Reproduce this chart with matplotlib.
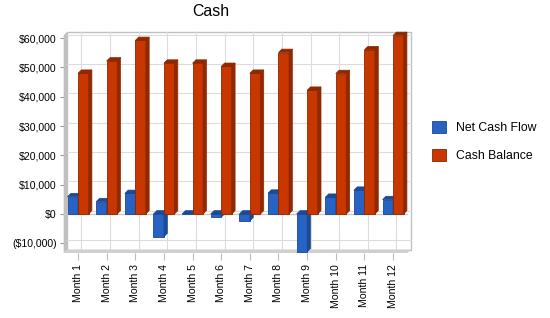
import matplotlib
matplotlib.use("Agg")
import matplotlib.pyplot as plt
from matplotlib.patches import Polygon, Rectangle

plt.rcParams["font.family"] = ["Liberation Sans", "DejaVu Sans"]

# dados
meses = ["Month 1", "Month 2", "Month 3", "Month 4", "Month 5", "Month 6",
         "Month 7", "Month 8", "Month 9", "Month 10", "Month 11", "Month 12"]
net_cash_flow = [5900, 4200, 7000, -7750, 0, -1100, -2350, 7100, -12900, 5700, 8100, 4900]
cash_balance = [48000, 52200, 59200, 51450, 51450, 50350, 48000, 55100, 42200, 47900, 56000, 60900]
y_ticks = [-10000, 0, 10000, 20000, 30000, 40000, 50000, 60000]

AZUL, AZUL_LADO, AZUL_BORDA = "#2663c4", "#1d4a93", "#1c4690"
VERM, VERM_LADO, VERM_BORDA = "#c83700", "#922800", "#8a2600"
PROF = 3.4  # profundidade 3D em pixels

fig = plt.figure(figsize=(5.5, 3.18), dpi=100)
ax = fig.add_axes([63.7 / 550, 65 / 318, 347.1 / 550, 221.3 / 318])
xlo, xhi = -0.5, 11.5
ylo, yhi = -13300, 61000
ax.set_xlim(xlo, 11.62)
ax.set_ylim(ylo, 62200)
for s in ax.spines.values():
    s.set_visible(False)

# conversao pixel -> dados para o efeito 3D
p0 = ax.transData.transform((0, 0))
p1 = ax.transData.transform((1, 1000))
ddx = PROF / (p1[0] - p0[0])
ddy = PROF * 1000 / (p1[1] - p0[1])

# parede do fundo + grade
ax.add_patch(Rectangle((xlo + ddx, ylo + ddy), xhi - xlo, yhi - ylo, facecolor="white",
                       edgecolor="#c0c0c0", lw=1.0, zorder=0, clip_on=False))
for yt in y_ticks:
    ax.plot([xlo + ddx, xhi + ddx], [yt + ddy, yt + ddy], color="#dcdcdc", lw=0.8, zorder=1, clip_on=False)
for i in range(len(meses)):
    ax.plot([i + ddx, i + ddx], [ylo + ddy, yhi + ddy], color="#dcdcdc", lw=0.8, zorder=1, clip_on=False)

# parede esquerda e piso
ax.add_patch(Polygon([(xlo, ylo), (xlo, yhi), (xlo + ddx, yhi + ddy), (xlo + ddx, ylo + ddy)],
                     closed=True, facecolor="#c0c0c0", edgecolor="none", zorder=2, clip_on=False))
ax.add_patch(Polygon([(xlo, ylo), (xhi, ylo), (xhi + ddx, ylo + ddy), (xlo + ddx, ylo + ddy)],
                     closed=True, facecolor="#cfcfcf", edgecolor="none", zorder=2, clip_on=False))
ax.plot([xlo, xhi], [0, 0], color="#c8c8c8", lw=1.0, zorder=2, clip_on=False)

# barras (frente via ax.bar, lados e topo como poligonos)
larg = 0.366
pos = list(range(len(meses)))
serie = [("Net Cash Flow", net_cash_flow, -larg / 2, AZUL, AZUL_LADO, AZUL_BORDA),
         ("Cash Balance", cash_balance, larg / 2, VERM, VERM_LADO, VERM_BORDA)]
handles = []
for k, (nome, vals, off, cor, lado, borda) in enumerate(serie):
    b = ax.bar([p + off for p in pos], vals, width=larg, color=cor, edgecolor=borda,
               linewidth=0.6, label=nome, clip_on=False)
    handles.append(b)
    for i, rect in enumerate(b.patches):
        z = 3 + i * 0.1 + k * 0.05
        rect.set_zorder(z)
        v = vals[i]
        x0 = rect.get_x()
        base, topo = min(0, v), max(0, v)
        ax.add_patch(Polygon([(x0 + larg, base), (x0 + larg + ddx, base + ddy),
                              (x0 + larg + ddx, topo + ddy), (x0 + larg, topo)],
                             closed=True, facecolor=lado, edgecolor=lado, lw=0.5, zorder=z, clip_on=False))
        ax.add_patch(Polygon([(x0, topo), (x0 + ddx, topo + ddy), (x0 + larg + ddx, topo + ddy),
                              (x0 + larg, topo)],
                             closed=True, facecolor=lado, edgecolor=borda, lw=0.5, zorder=z, clip_on=False))

# eixos
ax.set_yticks(y_ticks)
ax.set_yticklabels([f"${v:,.0f}" if v >= 0 else f"(${-v:,.0f})" for v in y_ticks], fontsize=7.6)
ax.set_xticks(pos)
ax.set_xticklabels(meses, rotation=90, fontsize=7.6)
ax.tick_params(axis="y", length=3, color="#999999", pad=2)
ax.tick_params(axis="x", length=5, color="#bbbbbb", pad=3)

fig.text(210.5 / 550, 1 - 12 / 318, "Cash", ha="center", va="center", fontsize=11.4)

fig.legend(handles=handles, loc="upper left", bbox_to_anchor=(432 / 550, 1 - 121 / 318),
           frameon=False, fontsize=8.8, handlelength=1.15, handleheight=1.15,
           labelspacing=1.2, handletextpad=0.8, borderpad=0, borderaxespad=0)

fig.savefig("out.png", dpi=100)
